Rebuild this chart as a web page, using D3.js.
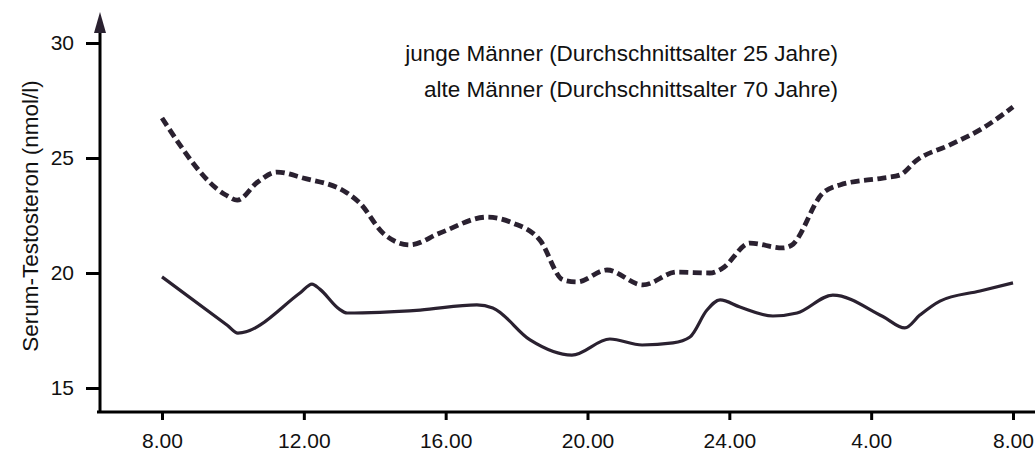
<!DOCTYPE html>
<html>
<head>
<meta charset="utf-8">
<script src="https://cdn.jsdelivr.net/npm/d3@7"></script>
<style>
  html, body { margin: 0; padding: 0; background: #fff; }
  svg { display: block; font-family: "Liberation Sans", Arial, sans-serif; }
</style>
</head>
<body>
<div id="chart"></div>
<script>
// ── Data ──────────────────────────────────────────────────────────────────
// Clock time runs on past midnight: 24 = 24.00, 28 = 4.00, 32 = 8.00 next morning
const TICK_HOURS = [8, 12, 16, 20, 24, 28, 32];
const TICK_LABELS = ['8.00', '12.00', '16.00', '20.00', '24.00', '4.00', '8.00'];
const Y_TICKS = [15, 20, 25, 30];

const YOUNG_HOURS = [8.0, 9.8, 10.12, 10.7, 11.24, 11.98, 13.22, 13.58, 14.23, 14.99, 15.84, 17.17, 17.9, 18.66,
  19.31, 19.7, 20.55, 21.56, 22.52, 23.45, 23.8, 24.58, 25.5, 25.75, 26.64, 27.12, 28.33, 28.81,
  29.29, 30.22, 31.15, 32.0];
const YOUNG_VALUES = [26.74, 23.39, 23.17, 23.96, 24.39, 24.13, 23.48, 23.04, 21.74, 21.22, 21.74, 22.43, 22.17, 21.43,
  19.7, 19.61, 20.13, 19.48, 20.04, 20.0, 20.2, 21.3, 21.09, 21.2, 23.48, 23.83, 24.13, 24.26,
  24.91, 25.57, 26.3, 27.22];

const OLD_HOURS = [8.0, 9.85, 10.14, 11.9, 12.23, 12.45, 13.0, 13.22, 15.28, 16.88, 17.33, 18.38, 19.56, 20.63,
  21.54, 22.41, 22.89, 23.37, 23.74, 24.3, 25.23, 25.91, 26.92, 28.33, 28.95, 29.38, 29.94, 31.07, 32.0];
const OLD_VALUES = [19.83, 17.72, 17.39, 19.14, 19.52, 19.3, 18.43, 18.26, 18.39, 18.61, 18.48, 17.09, 16.43, 17.13,
  16.87, 16.96, 17.22, 18.39, 18.83, 18.52, 18.13, 18.26, 19.04, 18.11, 17.61, 18.18, 18.78, 19.22, 19.57];

const LEGEND = [
  'junge Männer (Durchschnittsalter 25 Jahre)',
  'alte Männer (Durchschnittsalter 70 Jahre)'
];
const Y_TITLE = 'Serum-Testosteron (nmol/l)';

// ── Chart ─────────────────────────────────────────────────────────────────
const width = 1035;
const height = 452;
const INK = '#2a2130';

const svg = d3.select('#chart').append('svg')
  .attr('width', width)
  .attr('height', height);

const x = d3.scaleLinear().domain([8, 32]).range([162, 1013]);
const y = d3.scaleLinear().domain([15, 30]).range([388, 43]);

const axisX0 = 100;   // y axis position
const axisY0 = 412;   // x axis position

// y axis
svg.append('line')
  .attr('x1', axisX0).attr('x2', axisX0)
  .attr('y1', axisY0 + 1).attr('y2', 28)
  .attr('stroke', '#000').attr('stroke-width', 3);
svg.append('path')
  .attr('d', `M${axisX0},12 L${axisX0 - 6},33 L${axisX0 + 6},33 Z`)
  .attr('fill', INK);

const yAxis = svg.append('g')
  .attr('transform', `translate(${axisX0},0)`)
  .call(d3.axisLeft(y).tickValues(Y_TICKS).tickSize(14).tickPadding(12).tickFormat(d3.format('d')))
  .call(ax => ax.select('.domain').remove());
yAxis.selectAll('.tick line').attr('stroke', '#000').attr('stroke-width', 3);
yAxis.selectAll('text').attr('font-size', 21).attr('fill', '#111')
  .attr('font-family', '"Liberation Sans", Arial, sans-serif');

// x axis
svg.append('line')
  .attr('x1', axisX0 - 3).attr('x2', width)
  .attr('y1', axisY0).attr('y2', axisY0)
  .attr('stroke', '#000').attr('stroke-width', 3);

const xAxis = svg.append('g')
  .attr('transform', `translate(0,${axisY0})`)
  .call(d3.axisBottom(x).tickValues(TICK_HOURS).tickSize(8).tickPadding(13)
    .tickFormat((d, i) => TICK_LABELS[i]))
  .call(ax => ax.select('.domain').remove());
xAxis.selectAll('.tick line').attr('stroke', '#000').attr('stroke-width', 3);
xAxis.selectAll('text').attr('font-size', 21).attr('fill', '#111')
  .attr('font-family', '"Liberation Sans", Arial, sans-serif');

// y title
svg.append('text')
  .attr('transform', 'translate(38,216) rotate(-90)')
  .attr('text-anchor', 'middle')
  .attr('font-size', 22.5)
  .attr('fill', '#111')
  .text(Y_TITLE);

// lines
const line = d3.line()
  .x(d => x(d[0]))
  .y(d => y(d[1]))
  .curve(d3.curveMonotoneX);

svg.append('path')
  .datum(d3.zip(YOUNG_HOURS, YOUNG_VALUES))
  .attr('fill', 'none')
  .attr('stroke', INK)
  .attr('stroke-width', 4.8)
  .attr('stroke-dasharray', '9,4.5')
  .attr('d', line);

svg.append('path')
  .datum(d3.zip(OLD_HOURS, OLD_VALUES))
  .attr('fill', 'none')
  .attr('stroke', INK)
  .attr('stroke-width', 3.2)
  .attr('stroke-linejoin', 'round')
  .attr('d', line);

// legend (text only, right aligned)
svg.selectAll('.legend')
  .data(LEGEND)
  .enter()
  .append('text')
  .attr('class', 'legend')
  .attr('x', 838)
  .attr('y', (d, i) => 61 + i * 36)
  .attr('text-anchor', 'end')
  .attr('font-size', 22.5)
  .attr('fill', '#111')
  .text(d => d);
</script>
</body>
</html>
